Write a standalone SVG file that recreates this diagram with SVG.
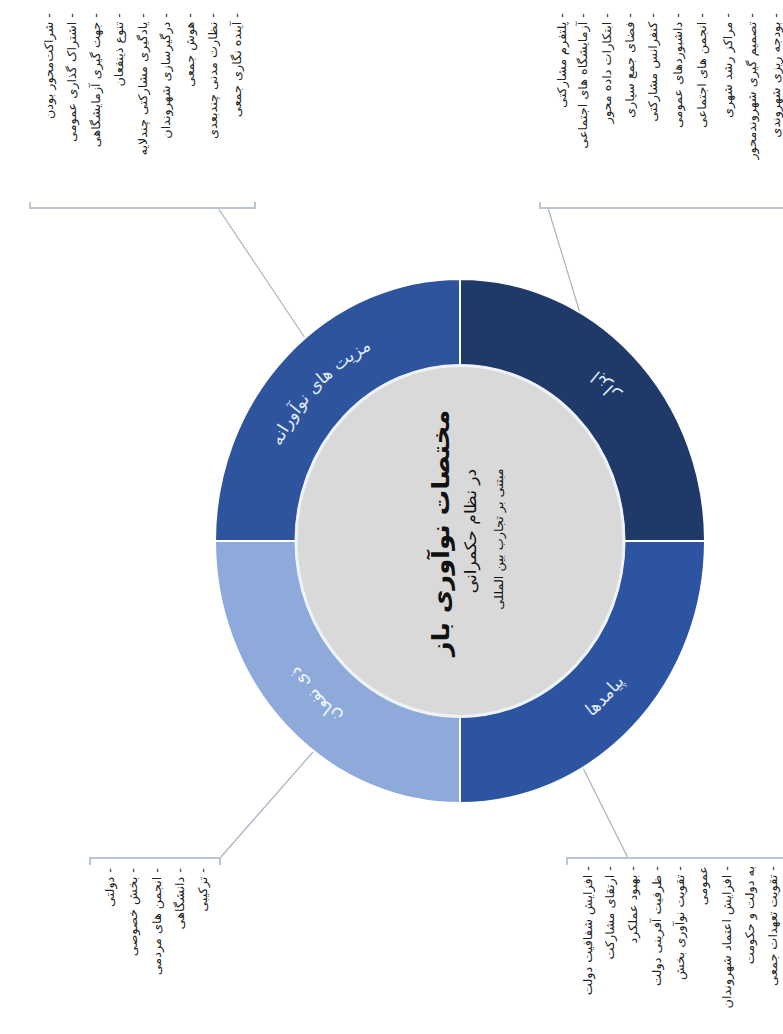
<svg xmlns="http://www.w3.org/2000/svg" width="783" height="1034" viewBox="0 0 783 1034">
<style>
text{font-family:"DejaVu Sans","Noto Sans",sans-serif;}
.li{font-size:12px;fill:#222;direction:rtl;text-anchor:start;}
.seglbl{font-size:17px;fill:#dfe8f6;direction:rtl;text-anchor:middle;}
.conn{stroke:#a7b3c4;stroke-width:1.2;fill:none;}
.brk{stroke:#bcc6d3;stroke-width:2;fill:none;}
.sec{stroke:#ffffff;stroke-width:2;}
</style>
<defs>
<path id="pTL" d="M -187.9 68.4 A 200 200 0 0 1 68.4 -187.9"/>
<path id="pBL" d="M 68.4 187.9 A 200 200 0 0 1 -187.9 -68.4"/>
<path id="pTR" d="M 199.2 72.5 A 213 213 0 0 0 -72.5 -199.2"/>
<path id="pBR" d="M -72.5 199.2 A 213 213 0 0 0 199.2 -72.5"/>
</defs>
<rect width="783" height="1034" fill="#ffffff"/>

<g id="connectors">
<line class="conn" x1="305" y1="338" x2="218" y2="208"/>
<path class="brk" d="M30 202 V208 H255 V202"/>
<line class="conn" x1="580" y1="313" x2="548" y2="208"/>
<path class="brk" d="M540 202 V208 H783"/>
<line class="conn" x1="583" y1="768" x2="628" y2="858"/>
<path class="brk" d="M567 865 V858 H783"/>
<line class="conn" x1="313" y1="752" x2="220" y2="858"/>
<path class="brk" d="M90 865 V858 H220 V865"/>
</g>

<g transform="translate(460,541) scale(1,1.07)">
<g id="seg-tl"><path class="sec" fill="#2e549e" d="M -245 0 A 245 245 0 0 1 0 -245 L 0 -164 A 164 164 0 0 0 -164 0 Z"/>
<text class="seglbl"><textPath href="#pTL" startOffset="50%">مزیت های نوآورانه</textPath></text></g>
<g id="seg-tr"><path class="sec" fill="#1f3968" d="M 0 -245 A 245 245 0 0 1 245 0 L 164 0 A 164 164 0 0 0 0 -164 Z"/>
<text class="seglbl"><textPath href="#pTR" startOffset="50%">ابزار</textPath></text></g>
<g id="seg-br"><path class="sec" fill="#2d54a0" d="M 245 0 A 245 245 0 0 1 0 245 L 0 164 A 164 164 0 0 0 164 0 Z"/>
<text class="seglbl"><textPath href="#pBR" startOffset="50%">پیامدها</textPath></text></g>
<g id="seg-bl"><path class="sec" fill="#8eaadb" d="M 0 245 A 245 245 0 0 1 -245 0 L -164 0 A 164 164 0 0 0 0 164 Z"/>
<text class="seglbl" style="fill:#f2f6fc"><textPath href="#pBL" startOffset="50%">ذی نفعان</textPath></text></g>
<g id="center"><circle r="164" fill="#d9d9d9" stroke="#eef3fa" stroke-width="3"/></g>
</g>

<g id="title">
<text transform="translate(449,533) scale(1,1.07) rotate(-90)" style="font-size:24px;font-weight:bold;fill:#111;direction:rtl;text-anchor:middle">مختصات نوآوری باز</text>
<text transform="translate(476,531) scale(1,1.07) rotate(-90)" style="font-size:16px;fill:#111;direction:rtl;text-anchor:middle">در نظام حکمرانی</text>
<text transform="translate(503,539) scale(1,1.07) rotate(-90)" style="font-size:12px;fill:#111;direction:rtl;text-anchor:middle">مبتنی بر تجارب بین المللی</text>
</g>

<g id="list-tl">
<text class="li" transform="translate(53,13) scale(1,1.07) rotate(-90)">-  شراکت‌محور بودن</text>
<text class="li" transform="translate(76,13) scale(1,1.07) rotate(-90)">-  اشتراک گذاری عمومی</text>
<text class="li" transform="translate(100,13) scale(1,1.07) rotate(-90)">-  جهت گیری آزمایشگاهی</text>
<text class="li" transform="translate(123,13) scale(1,1.07) rotate(-90)">-  تنوع ذینفعان</text>
<text class="li" transform="translate(147,13) scale(1,1.07) rotate(-90)">-  یادگیری مشارکتی چندلایه</text>
<text class="li" transform="translate(170,13) scale(1,1.07) rotate(-90)">-  درگیرسازی شهروندان</text>
<text class="li" transform="translate(194,13) scale(1,1.07) rotate(-90)">-  هوش جمعی</text>
<text class="li" transform="translate(217,13) scale(1,1.07) rotate(-90)">-  نظارت مدنی چندبعدی</text>
<text class="li" transform="translate(241,13) scale(1,1.07) rotate(-90)">-  آینده نگاری جمعی</text>
</g>

<g id="list-tr">
<text class="li" transform="translate(566,13) scale(1,1.07) rotate(-90)">-  پلتفرم مشارکتی</text>
<text class="li" transform="translate(587,13) scale(1,1.07) rotate(-90)">-  آزمایشگاه های اجتماعی</text>
<text class="li" transform="translate(611,13) scale(1,1.07) rotate(-90)">-  ابتکارات داده محور</text>
<text class="li" transform="translate(634,13) scale(1,1.07) rotate(-90)">-  فضای جمع سپاری</text>
<text class="li" transform="translate(657,13) scale(1,1.07) rotate(-90)">-  کنفرانس مشارکتی</text>
<text class="li" transform="translate(682,13) scale(1,1.07) rotate(-90)">-  داشبوردهای عمومی</text>
<text class="li" transform="translate(706,13) scale(1,1.07) rotate(-90)">-  انجمن های اجتماعی</text>
<text class="li" transform="translate(732,13) scale(1,1.07) rotate(-90)">-  مراکز رشد شهری</text>
<text class="li" transform="translate(756,13) scale(1,1.07) rotate(-90)">-  تصمیم گیری شهروندمحور</text>
<text class="li" transform="translate(780,13) scale(1,1.07) rotate(-90)">-  بودجه ریزی شهروندی</text>
</g>

<g id="list-br">
<text class="li" transform="translate(592,866) scale(1,1.07) rotate(-90)">-  افزایش شفافیت دولت</text>
<text class="li" transform="translate(614,866) scale(1,1.07) rotate(-90)">-  ارتقای مشارکت</text>
<text class="li" transform="translate(637,866) scale(1,1.07) rotate(-90)">-  بهبود عملکرد</text>
<text class="li" transform="translate(661,866) scale(1,1.07) rotate(-90)">-  ظرفیت آفرینی دولت</text>
<text class="li" transform="translate(684,866) scale(1,1.07) rotate(-90)">-  تقویت نوآوری بخش</text>
<text class="li" transform="translate(707,866) scale(1,1.07) rotate(-90)">عمومی</text>
<text class="li" transform="translate(731,866) scale(1,1.07) rotate(-90)">-  افزایش اعتماد شهروندان</text>
<text class="li" transform="translate(754,866) scale(1,1.07) rotate(-90)">به دولت و حکومت</text>
<text class="li" transform="translate(777,866) scale(1,1.07) rotate(-90)">-  تقویت تعهدات جمعی</text>
</g>

<g id="list-bl">
<text class="li" transform="translate(114,868) scale(1,1.07) rotate(-90)">-  دولتی</text>
<text class="li" transform="translate(137,868) scale(1,1.07) rotate(-90)">-  بخش خصوصی</text>
<text class="li" transform="translate(161,868) scale(1,1.07) rotate(-90)">-  انجمن های مردمی</text>
<text class="li" transform="translate(184,868) scale(1,1.07) rotate(-90)">-  دانشگاهی</text>
<text class="li" transform="translate(207,868) scale(1,1.07) rotate(-90)">-  ترکیبی</text>
</g>
</svg>
